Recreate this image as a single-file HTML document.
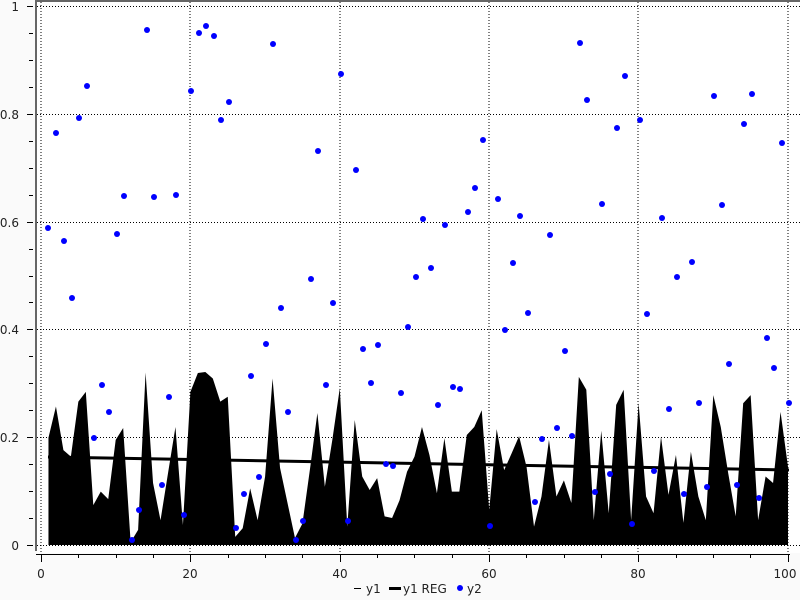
<!DOCTYPE html>
<html><head><meta charset="utf-8"><style>
html,body{margin:0;padding:0;background:#fafafa;}
svg{display:block;font-family:"DejaVu Sans","Liberation Sans",sans-serif;}
</style></head><body>
<svg width="800" height="600" viewBox="0 0 800 600" xmlns="http://www.w3.org/2000/svg">
<rect x="0" y="0" width="800" height="600" fill="#fafafa"/>
<rect x="37" y="2" width="763" height="551" fill="#fff"/>
<!-- grid -->
<g stroke="#000" stroke-width="1" stroke-dasharray="1,2" fill="none">
<line x1="41" y1="2" x2="41" y2="553"/><line x1="190" y1="2" x2="190" y2="553"/>
<line x1="340" y1="2" x2="340" y2="553"/><line x1="489" y1="2" x2="489" y2="553"/>
<line x1="638" y1="2" x2="638" y2="553"/><line x1="788" y1="2" x2="788" y2="553"/>
<line x1="37" y1="6.5" x2="800" y2="6.5"/><line x1="37" y1="114.5" x2="800" y2="114.5"/>
<line x1="37" y1="222.5" x2="800" y2="222.5"/><line x1="37" y1="329.5" x2="800" y2="329.5"/>
<line x1="37" y1="437.5" x2="800" y2="437.5"/><line x1="37" y1="545.5" x2="800" y2="545.5"/>
</g>
<!-- area -->
<g transform="translate(41,545) scale(7.47,-539)">
<polygon fill="#000" points="1,0 1,0.199 2,0.257 3,0.176 4,0.164 5,0.266 6,0.284 7,0.074 8,0.099 9,0.085 10,0.195 11,0.217 12,0.005 13,0.028 14,0.32 15,0.115 16,0.046 17,0.133 18,0.219 19,0.037 20,0.284 21,0.319 22,0.321 23,0.309 24,0.266 25,0.275 26,0.015 27,0.031 28,0.105 29,0.046 30,0.127 31,0.309 32,0.143 33,0.078 34,0.013 35,0.04 36,0.14 37,0.245 38,0.108 39,0.195 40,0.291 41,0.034 42,0.232 43,0.127 44,0.102 45,0.124 46,0.053 47,0.05 48,0.083 49,0.136 50,0.164 51,0.219 52,0.167 53,0.096 54,0.198 55,0.099 56,0.099 57,0.204 58,0.219 59,0.25 60,0.065 61,0.215 62,0.139 63,0.17 64,0.202 65,0.145 66,0.034 67,0.09 68,0.195 69,0.09 70,0.12 71,0.078 72,0.312 73,0.288 74,0.046 75,0.212 76,0.059 77,0.26 78,0.288 79,0.046 80,0.263 81,0.09 82,0.059 83,0.201 84,0.093 85,0.167 86,0.041 87,0.173 88,0.09 89,0.046 90,0.278 91,0.219 92,0.133 93,0.053 94,0.263 95,0.278 96,0.046 97,0.127 98,0.115 99,0.247 100,0.145 100,0"/>
</g>
<!-- regression -->
<line x1="48" y1="457" x2="789" y2="470" stroke="#000" stroke-width="3"/>
<!-- points -->
<g fill="#0000ff">
<circle cx="48" cy="228" r="3"/><circle cx="56" cy="133" r="3"/><circle cx="64" cy="241" r="3"/><circle cx="72" cy="298" r="3"/><circle cx="79" cy="118" r="3"/><circle cx="87" cy="86" r="3"/><circle cx="94" cy="438" r="3"/><circle cx="102" cy="385" r="3"/><circle cx="109" cy="412" r="3"/><circle cx="117" cy="234" r="3"/><circle cx="124" cy="196" r="3"/><circle cx="132" cy="540" r="3"/><circle cx="139" cy="510" r="3"/><circle cx="147" cy="30" r="3"/><circle cx="154" cy="197" r="3"/><circle cx="162" cy="485" r="3"/><circle cx="169" cy="397" r="3"/><circle cx="176" cy="195" r="3"/><circle cx="184" cy="515" r="3"/><circle cx="191" cy="91" r="3"/><circle cx="199" cy="33" r="3"/><circle cx="206" cy="26" r="3"/><circle cx="214" cy="36" r="3"/><circle cx="221" cy="120" r="3"/><circle cx="229" cy="102" r="3"/><circle cx="236" cy="528" r="3"/><circle cx="244" cy="494" r="3"/><circle cx="251" cy="376" r="3"/><circle cx="259" cy="477" r="3"/><circle cx="266" cy="344" r="3"/><circle cx="273" cy="44" r="3"/><circle cx="281" cy="308" r="3"/><circle cx="288" cy="412" r="3"/><circle cx="296" cy="540" r="3"/><circle cx="303" cy="521" r="3"/><circle cx="311" cy="279" r="3"/><circle cx="318" cy="151" r="3"/><circle cx="326" cy="385" r="3"/><circle cx="333" cy="303" r="3"/><circle cx="341" cy="74" r="3"/><circle cx="348" cy="521" r="3"/><circle cx="356" cy="170" r="3"/><circle cx="363" cy="349" r="3"/><circle cx="371" cy="383" r="3"/><circle cx="378" cy="345" r="3"/><circle cx="386" cy="464" r="3"/><circle cx="393" cy="466" r="3"/><circle cx="401" cy="393" r="3"/><circle cx="408" cy="327" r="3"/><circle cx="416" cy="277" r="3"/><circle cx="423" cy="219" r="3"/><circle cx="431" cy="268" r="3"/><circle cx="438" cy="405" r="3"/><circle cx="445" cy="225" r="3"/><circle cx="453" cy="387" r="3"/><circle cx="460" cy="389" r="3"/><circle cx="468" cy="212" r="3"/><circle cx="475" cy="188" r="3"/><circle cx="483" cy="140" r="3"/><circle cx="490" cy="526" r="3"/><circle cx="498" cy="199" r="3"/><circle cx="505" cy="330" r="3"/><circle cx="513" cy="263" r="3"/><circle cx="520" cy="216" r="3"/><circle cx="528" cy="313" r="3"/><circle cx="535" cy="502" r="3"/><circle cx="542" cy="439" r="3"/><circle cx="550" cy="235" r="3"/><circle cx="557" cy="428" r="3"/><circle cx="565" cy="351" r="3"/><circle cx="572" cy="436" r="3"/><circle cx="580" cy="43" r="3"/><circle cx="587" cy="100" r="3"/><circle cx="595" cy="492" r="3"/><circle cx="602" cy="204" r="3"/><circle cx="610" cy="474" r="3"/><circle cx="617" cy="128" r="3"/><circle cx="625" cy="76" r="3"/><circle cx="632" cy="524" r="3"/><circle cx="640" cy="120" r="3"/><circle cx="647" cy="314" r="3"/><circle cx="654" cy="471" r="3"/><circle cx="662" cy="218" r="3"/><circle cx="669" cy="409" r="3"/><circle cx="677" cy="277" r="3"/><circle cx="684" cy="494" r="3"/><circle cx="692" cy="262" r="3"/><circle cx="699" cy="403" r="3"/><circle cx="707" cy="487" r="3"/><circle cx="714" cy="96" r="3"/><circle cx="722" cy="205" r="3"/><circle cx="729" cy="364" r="3"/><circle cx="737" cy="485" r="3"/><circle cx="744" cy="124" r="3"/><circle cx="752" cy="94" r="3"/><circle cx="759" cy="498" r="3"/><circle cx="767" cy="338" r="3"/><circle cx="774" cy="368" r="3"/><circle cx="782" cy="143" r="3"/><circle cx="789" cy="403" r="3"/>
</g>
<!-- axes frame -->
<line x1="36" y1="1" x2="800" y2="1" stroke="#666" stroke-width="2"/>
<line x1="36" y1="0" x2="36" y2="551" stroke="#666" stroke-width="2"/>
<line x1="36" y1="554.5" x2="790" y2="554.5" stroke="#000" stroke-width="1"/>
<!-- left ticks -->
<g stroke="#000" stroke-width="1">
<line x1="27" y1="6.5" x2="33" y2="6.5"/><line x1="29" y1="33.5" x2="33" y2="33.5"/><line x1="29" y1="60.5" x2="33" y2="60.5"/><line x1="29" y1="87.5" x2="33" y2="87.5"/>
<line x1="27" y1="114.5" x2="33" y2="114.5"/><line x1="29" y1="141.5" x2="33" y2="141.5"/><line x1="29" y1="168.5" x2="33" y2="168.5"/><line x1="29" y1="195.5" x2="33" y2="195.5"/>
<line x1="27" y1="222.5" x2="33" y2="222.5"/><line x1="29" y1="249.5" x2="33" y2="249.5"/><line x1="29" y1="276.5" x2="33" y2="276.5"/><line x1="29" y1="302.5" x2="33" y2="302.5"/>
<line x1="27" y1="329.5" x2="33" y2="329.5"/><line x1="29" y1="356.5" x2="33" y2="356.5"/><line x1="29" y1="383.5" x2="33" y2="383.5"/><line x1="29" y1="410.5" x2="33" y2="410.5"/>
<line x1="27" y1="437.5" x2="33" y2="437.5"/><line x1="29" y1="464.5" x2="33" y2="464.5"/><line x1="29" y1="491.5" x2="33" y2="491.5"/><line x1="29" y1="518.5" x2="33" y2="518.5"/>
<line x1="27" y1="545.5" x2="33" y2="545.5"/>
</g>
<!-- bottom ticks -->
<g stroke="#000" stroke-width="1">
<line x1="41.5" y1="554" x2="41.5" y2="562"/><line x1="78.5" y1="554" x2="78.5" y2="558"/><line x1="116.5" y1="554" x2="116.5" y2="558"/><line x1="153.5" y1="554" x2="153.5" y2="558"/>
<line x1="190.5" y1="554" x2="190.5" y2="562"/><line x1="228.5" y1="554" x2="228.5" y2="558"/><line x1="265.5" y1="554" x2="265.5" y2="558"/><line x1="302.5" y1="554" x2="302.5" y2="558"/>
<line x1="340.5" y1="554" x2="340.5" y2="562"/><line x1="377.5" y1="554" x2="377.5" y2="558"/><line x1="414.5" y1="554" x2="414.5" y2="558"/><line x1="452.5" y1="554" x2="452.5" y2="558"/>
<line x1="489.5" y1="554" x2="489.5" y2="562"/><line x1="526.5" y1="554" x2="526.5" y2="558"/><line x1="564.5" y1="554" x2="564.5" y2="558"/><line x1="601.5" y1="554" x2="601.5" y2="558"/>
<line x1="638.5" y1="554" x2="638.5" y2="562"/><line x1="676.5" y1="554" x2="676.5" y2="558"/><line x1="713.5" y1="554" x2="713.5" y2="558"/><line x1="750.5" y1="554" x2="750.5" y2="558"/>
<line x1="788.5" y1="554" x2="788.5" y2="562"/>
</g>
<g font-size="12" fill="#222">
<g text-anchor="end">
<text x="19" y="11">1</text><text x="19" y="119">0.8</text><text x="19" y="227">0.6</text>
<text x="19" y="334">0.4</text><text x="19" y="442">0.2</text><text x="19" y="550">0</text>
</g>
<g text-anchor="middle">
<text x="41" y="578">0</text><text x="190" y="578">20</text><text x="340" y="578">40</text>
<text x="489" y="578">60</text><text x="638" y="578">80</text><text x="785" y="578">100</text>
</g>
<line x1="354" y1="588.5" x2="361" y2="588.5" stroke="#000" stroke-width="1"/>
<text x="366" y="593">y1</text>
<line x1="389" y1="588.5" x2="401" y2="588.5" stroke="#000" stroke-width="3"/>
<text x="403" y="593">y1 REG</text>
<circle cx="460" cy="588" r="3" fill="#0000ff"/>
<text x="467" y="593">y2</text>
</g>
</svg>
</body></html>
